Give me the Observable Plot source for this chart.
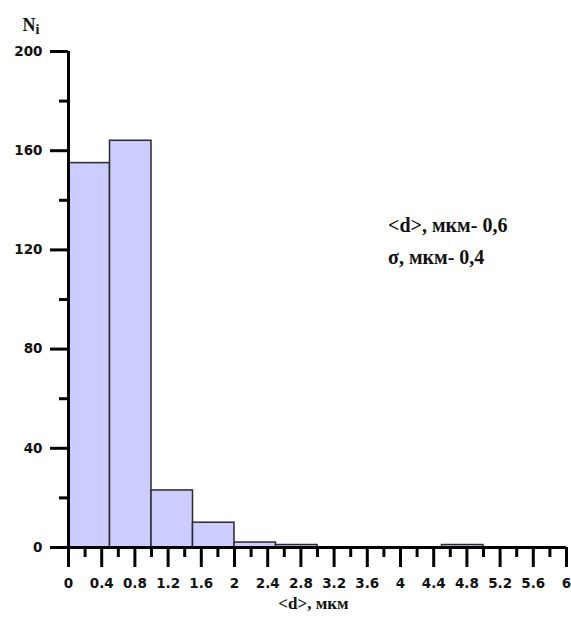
<!DOCTYPE html>
<html>
<head>
<meta charset="utf-8">
<script src="https://cdn.jsdelivr.net/npm/d3@7"></script>
<script src="https://cdn.jsdelivr.net/npm/@observablehq/plot@0.6"></script>
<style>
  html, body { margin: 0; padding: 0; background: #fff; }
</style>
</head>
<body>
<div id="chart"></div>
<script>
// Histogram bins (µm) and counts
const binStart = [0, 0.5, 1.0, 1.5, 2.0, 2.5, 3.0, 3.5, 4.0, 4.5];
const binEnd   = [0.5, 1.0, 1.5, 2.0, 2.5, 3.0, 3.5, 4.0, 4.5, 5.0];
const counts   = [155, 164, 23, 10, 2, 1, 0, 0, 0, 1];

// Axis ticks
const xMajorTicks = [0, 0.4, 0.8, 1.2, 1.6, 2, 2.4, 2.8, 3.2, 3.6, 4, 4.4, 4.8, 5.2, 5.6, 6];
const xTickLabels = ["0", "0.4", "0.8", "1.2", "1.6", "2", "2.4", "2.8", "3.2", "3.6", "4", "4.4", "4.8", "5.2", "5.6", "6"];
const xMinorTicks = [0.2, 0.6, 1.0, 1.4, 1.8, 2.2, 2.6, 3.0, 3.4, 3.8, 4.2, 4.6, 5.0, 5.4, 5.8];
const yMajorTicks = [0, 40, 80, 120, 160, 200];
const yMinorTicks = [20, 60, 100, 140, 180];

// Annotation
const noteLines = ["<d>, мкм- 0,6", "σ, мкм- 0,4"];
const noteX = [3.85, 3.85];
const noteY = [130, 117];

const bins = binStart.map((s, i) => ({x1: s, x2: binEnd[i], n: counts[i]})).filter(d => d.n > 0);
const labelOf = new Map(xMajorTicks.map((v, i) => [v, xTickLabels[i]]));
const notes = noteLines.map((t, i) => ({t, x: noteX[i], y: noteY[i]}));
const serif = "'Liberation Serif', 'Times New Roman', serif";

const chart = Plot.plot({
  width: 571,
  height: 622,
  marginLeft: 68,
  marginRight: 5,
  marginTop: 51,
  marginBottom: 75,
  x: {domain: [0, 6]},
  y: {domain: [0, 200]},
  style: {fontFamily: "'DejaVu Sans', Verdana, sans-serif", fontSize: "13.5px", fontWeight: "bold", color: "#000", background: "#fff"},
  marks: [
    Plot.rectY(bins, {x1: "x1", x2: "x2", y: "n", fill: "#ccccff", stroke: "#2a2a2a", strokeWidth: 1.5}),
    Plot.axisX(xMajorTicks, {tickSize: 20, tickPadding: 11, strokeWidth: 3, tickFormat: d => labelOf.get(d), fill: "#111"}),
    Plot.axisX(xMinorTicks, {tickSize: 10, strokeWidth: 3, tickFormat: () => ""}),
    Plot.axisY(yMajorTicks, {tickSize: 18, tickPadding: 8, strokeWidth: 3, fill: "#111"}),
    Plot.axisY(yMinorTicks, {tickSize: 9, strokeWidth: 3, tickFormat: () => ""}),
    Plot.ruleY([0], {strokeWidth: 3, stroke: "#000"}),
    Plot.ruleX([0], {strokeWidth: 3, stroke: "#000"}),
    Plot.text(notes, {x: "x", y: "y", text: "t", textAnchor: "start", fontFamily: serif, fontWeight: "bold", fontSize: 20, fill: "#111", style: "letter-spacing:0.5px"}),
    Plot.text(["<d>, мкм"], {frameAnchor: "bottom", dx: -4, dy: 61, fontFamily: serif, fontWeight: "bold", fontSize: 17, fill: "#111"}),
    Plot.text(["N"], {frameAnchor: "top-left", dx: -46, dy: -33, textAnchor: "start", fontFamily: serif, fontWeight: "bold", fontSize: 18, fill: "#111"}),
    Plot.text(["i"], {frameAnchor: "top-left", dx: -33, dy: -27, textAnchor: "start", fontFamily: serif, fontWeight: "bold", fontSize: 14, fill: "#111"})
  ]
});
document.getElementById("chart").appendChild(chart);
</script>
</body>
</html>
